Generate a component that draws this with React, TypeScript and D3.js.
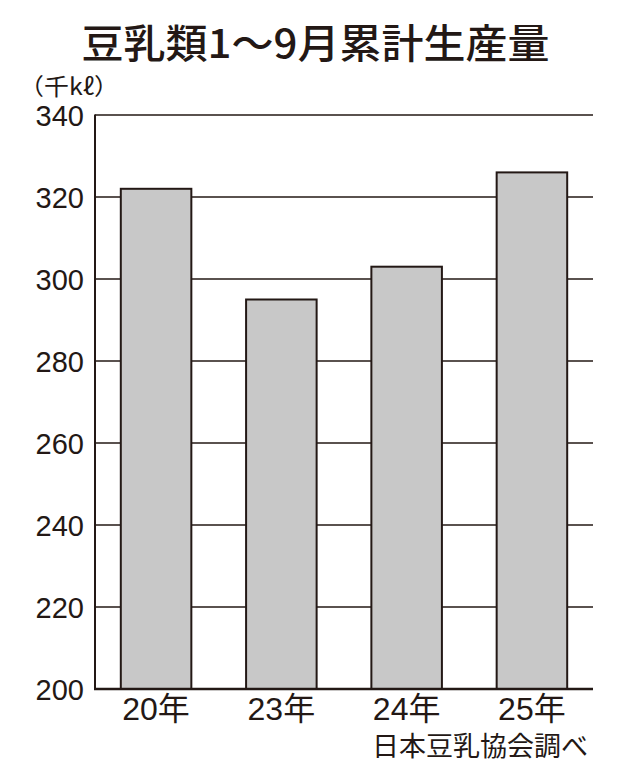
import React from "react";
import * as d3 from "d3";

const width = 631;
const height = 777;
const margin = { left: 95, right: 38, top: 115, bottom: 88 }; // plot area
const ink = "#231815"; // print black
const barFill = "#c8c8c8";
const cjk = "'Noto Sans CJK JP', sans-serif";
const latin = "'Liberation Sans', 'Noto Sans CJK JP', sans-serif";

const title = "豆乳類1～9月累計生産量";
const unitLabel = "（千kℓ）";
const sourceLabel = "日本豆乳協会調べ";
const categories = ["20年", "23年", "24年", "25年"];
const values = [322, 295, 303, 326]; // 千kℓ
const yTicks = [200, 220, 240, 260, 280, 300, 320, 340];

const x = d3
  .scaleBand<string>()
  .domain(categories)
  .range([margin.left, width - margin.right])
  .paddingInner(0.437)
  .paddingOuter(0.206);

const y = d3
  .scaleLinear()
  .domain([200, 340])
  .range([height - margin.bottom, margin.top]);

const App = () => {
  const x0 = margin.left;
  const x1 = width - margin.right;
  const yBase = y(200);
  return (
    <svg
      width={width}
      height={height}
      style={{ position: "absolute", left: 0, top: 0, background: "#fff" }}
    >
      <text
        x={width / 2}
        y={58}
        textAnchor="middle"
        fontFamily={cjk}
        fontWeight={500}
        fontSize={40}
        fill={ink}
        textLength={468}
        lengthAdjust="spacingAndGlyphs"
      >
        {title}
      </text>
      <text
        x={19}
        y={95}
        fontFamily={cjk}
        fontSize={23}
        fill={ink}
        textLength={100}
        lengthAdjust="spacingAndGlyphs"
      >
        {unitLabel}
      </text>

      {/* gridlines */}
      {yTicks.slice(1).map((t) => (
        <line
          key={t}
          x1={x0}
          x2={x1}
          y1={y(t)}
          y2={y(t)}
          stroke={ink}
          strokeWidth={1.3}
        />
      ))}

      {/* bars */}
      {categories.map((c, i) => (
        <rect
          key={c}
          x={x(c)}
          y={y(values[i])}
          width={x.bandwidth()}
          height={yBase - y(values[i])}
          fill={barFill}
          stroke={ink}
          strokeWidth={2}
        />
      ))}

      {/* axes */}
      <line x1={x0} x2={x0} y1={y(340) - 0.6} y2={yBase} stroke={ink} strokeWidth={2} />
      <line x1={x0 - 1} x2={x1} y1={yBase} y2={yBase} stroke={ink} strokeWidth={2.6} />

      {yTicks.map((t) => (
        <text
          key={t}
          x={84}
          y={y(t) + 11}
          textAnchor="end"
          fontFamily={latin}
          fontSize={29}
          fill={ink}
        >
          {t}
        </text>
      ))}

      {categories.map((c) => (
        <text
          key={c}
          x={(x(c) as number) + x.bandwidth() / 2}
          y={720}
          textAnchor="middle"
          fontFamily={latin}
          fontSize={32}
          fill={ink}
        >
          {c}
        </text>
      ))}

      <text
        x={588}
        y={756}
        textAnchor="end"
        fontFamily={cjk}
        fontSize={27}
        fill={ink}
      >
        {sourceLabel}
      </text>
    </svg>
  );
};

export default App;
